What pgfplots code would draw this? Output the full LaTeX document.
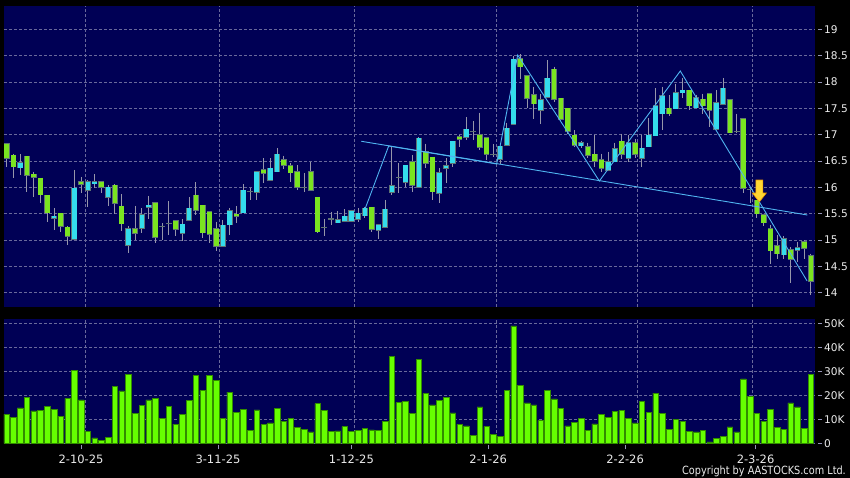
\documentclass[border=0pt]{standalone}
\usepackage{pgfplots}
\usepackage{pgfplotstable}
\pgfplotsset{compat=1.18}
\usepackage{fontspec}
\setmainfont{DejaVu Sans}
\newfontfamily\cpfont[FakeStretch=0.86]{DejaVu Sans}
\definecolor{navy}{RGB}{0,0,85}
\definecolor{cgreen}{RGB}{122,228,32}
\definecolor{ccyan}{RGB}{52,220,236}
\definecolor{cedge}{RGB}{95,115,115}
\definecolor{wick}{RGB}{150,150,170}
\definecolor{vgreen}{RGB}{102,255,0}
\definecolor{vedge}{RGB}{50,140,0}
\definecolor{gridc}{RGB}{105,105,155}
\definecolor{trend}{RGB}{80,180,240}
\definecolor{lab}{RGB}{235,235,235}
\definecolor{arrowy}{RGB}{255,215,50}
\definecolor{arrowo}{RGB}{235,150,0}

\pgfplotstableread{
i o h l c v
0 16.82 16.82 16.39 16.55 12.1
1 16.61 16.64 16.17 16.39 10.7
2 16.37 16.63 16.24 16.46 14.8
3 16.59 16.59 15.92 16.235 19.0
4 16.25 16.30 15.81 16.19 13.5
5 16.17 16.17 15.70 15.86 13.7
6 15.85 15.85 15.35 15.52 15.5
7 15.41 15.60 15.19 15.45 14.1
8 15.51 15.51 15.16 15.26 11.3
9 15.24 15.27 14.91 15.07 18.7
10 15.02 16.33 15.02 15.98 30.5
11 16.11 16.20 15.89 16.06 18.1
12 15.95 16.14 15.62 16.10 5.1
13 16.07 16.25 15.98 16.10 2.3
14 16.10 16.10 15.89 16.00 1.1
15 15.81 16.04 15.65 16.00 2.6
16 16.04 16.06 15.50 15.70 23.8
17 15.64 15.87 15.18 15.31 21.8
18 14.90 15.27 14.76 15.21 28.6
19 15.21 15.65 15.00 15.13 12.4
20 15.23 15.60 15.13 15.48 15.8
21 15.62 15.84 15.39 15.66 18.1
22 15.70 15.70 14.95 15.05 18.8
23 15.26 15.32 15.00 15.26 10.3
24 15.32 15.74 15.10 15.32 15.5
25 15.36 15.36 15.07 15.21 8.0
26 15.13 15.39 14.99 15.30 12.2
27 15.38 15.81 15.38 15.60 17.9
28 15.85 16.10 15.48 15.57 28.3
29 15.66 15.66 15.03 15.14 22.1
30 15.53 15.53 14.94 15.11 28.3
31 15.21 15.35 14.80 14.88 26.2
32 14.88 15.38 14.88 15.28 10.3
33 15.29 15.60 15.10 15.55 21.3
34 15.49 15.65 15.33 15.45 13.0
35 15.52 16.06 15.52 15.94 14.1
36 15.92 15.98 15.76 15.92 5.4
37 15.91 16.29 15.75 16.29 13.9
38 16.33 16.55 16.08 16.27 7.8
39 16.13 16.55 16.13 16.36 8.5
40 16.30 16.74 16.30 16.63 14.6
41 16.52 16.60 16.34 16.42 9.2
42 16.41 16.46 16.11 16.28 10.3
43 16.29 16.42 15.95 16.00 6.5
44 16.00 16.27 15.92 16.00 5.9
45 16.30 16.49 15.95 15.95 4.8
46 15.81 15.81 15.13 15.16 16.5
47 15.24 15.40 15.08 15.24 13.6
48 15.40 15.54 15.29 15.40 5.1
49 15.33 15.55 15.32 15.38 5.2
50 15.36 15.58 15.34 15.45 6.9
51 15.36 15.57 15.34 15.55 5.1
52 15.40 15.60 15.35 15.51 5.4
53 15.46 15.63 15.41 15.60 6.2
54 15.62 15.62 15.16 15.21 5.6
55 15.19 15.29 15.02 15.29 5.4
56 15.24 15.76 15.24 15.58 9.2
57 15.91 16.77 15.86 16.03 36.2
58 16.19 16.46 15.90 16.19 16.9
59 16.10 16.42 16.01 16.42 17.6
60 16.49 16.61 15.92 16.04 12.4
61 16.00 16.95 16.00 16.93 35.0
62 16.68 16.83 16.36 16.46 20.7
63 16.57 16.57 15.76 15.92 16.0
64 15.89 16.36 15.70 16.28 17.8
65 16.36 16.55 16.09 16.41 19.1
66 16.46 16.87 16.38 16.87 12.7
67 16.96 16.99 16.76 16.91 7.9
68 16.95 17.33 16.90 17.10 7.3
69 17.06 17.25 16.90 17.06 3.2
70 17.00 17.42 16.71 16.76 15.2
71 16.94 16.94 16.52 16.63 6.9
72 16.63 16.82 16.57 16.63 3.7
73 16.53 16.78 16.44 16.78 2.9
74 16.80 17.23 16.80 17.12 22.0
75 17.20 18.49 17.20 18.43 48.9
76 18.44 18.53 18.05 18.29 24.1
77 18.12 18.12 17.50 17.69 16.8
78 17.76 17.91 17.29 17.59 16.0
79 17.47 17.78 17.20 17.66 9.6
80 17.71 18.41 17.71 18.07 22.2
81 18.24 18.29 17.62 17.67 18.5
82 17.69 17.69 17.25 17.29 14.5
83 17.50 17.50 17.02 17.06 7.3
84 16.99 17.08 16.76 16.80 8.7
85 16.79 16.88 16.74 16.85 10.3
86 16.77 16.85 16.55 16.61 5.5
87 16.63 16.99 16.39 16.50 8.1
88 16.52 16.64 16.29 16.36 12.0
89 16.33 16.68 16.33 16.49 10.9
90 16.49 16.85 16.49 16.73 13.4
91 16.87 17.02 16.54 16.63 13.6
92 16.55 16.99 16.49 16.84 10.3
93 16.84 16.92 16.56 16.63 8.5
94 16.55 16.99 16.39 16.74 17.5
95 16.77 17.31 16.77 16.99 13.0
96 16.98 17.88 16.98 17.55 20.9
97 17.40 17.91 17.08 17.74 12.5
98 17.50 17.75 17.36 17.40 5.9
99 17.49 17.97 17.49 17.80 10.1
100 17.80 18.08 17.69 17.84 9.2
101 17.84 17.84 17.47 17.55 5.0
102 17.51 17.76 17.51 17.70 4.8
103 17.67 17.78 17.40 17.55 5.4
104 17.78 17.78 17.15 17.47 0.6
105 17.10 17.84 17.10 17.61 2.2
106 17.58 18.08 17.58 17.88 2.8
107 17.66 17.66 17.04 17.04 6.8
108 17.06 17.40 17.04 17.06 4.8
109 17.295 17.295 15.89 15.98 26.8
110 15.96 16.00 15.71 15.96 19.4
111 15.75 15.75 15.41 15.50 12.6
112 15.48 15.48 15.27 15.33 9.0
113 15.21 15.29 14.55 14.80 14.2
114 14.89 15.10 14.63 14.74 6.6
115 14.72 15.07 14.63 15.02 5.8
116 14.81 14.86 14.18 14.63 16.8
117 14.81 14.97 14.59 14.85 15.2
118 14.97 15.00 14.63 14.85 6.2
119 14.70 14.74 13.96 14.22 28.8
}\data

\pgfplotsset{
  chartbase/.style={
    scale only axis, width=811pt,
    xmin=-0.4, xmax=119.6,
    axis background/.style={fill=navy},
    axis line style={draw=none},
    grid style={gridc, line width=0.6pt, dash pattern=on 3pt off 2pt},
    ymajorgrids,
    ytick pos=right, yticklabel pos=right,
    tick align=outside,
    ytick style={draw=gridc!70!white, line width=0.6pt, xshift=3pt},
    major tick length=4pt,
    /pgf/number format/assume math mode=true,
    yticklabel style={font=\fontsize{10.6}{12}\selectfont, text=lab, anchor=west, inner sep=0pt, xshift=5pt},
    xticklabel style={font=\fontsize{11.5}{13}\selectfont, text=lab},
    clip=true,
  },
  candle/.style={draw=none, no markers, forget plot,
    error bars/y dir=minus, error bars/y explicit, error bars/error mark=none},
}

\begin{document}
\begin{tikzpicture}[x=1pt,y=1pt]
\fill[black] (0,0) rectangle (850,478);
% price panel
\begin{axis}[chartbase,
  at={(4pt,171.3pt)}, anchor=south west, height=301pt,
  ymin=13.734, ymax=19.448,
  ytick={14,14.5,15,15.5,16,16.5,17,17.5,18,18.5,19},
  xtick={11.57,31.5,51.5,72.4,93.3,110.3}, xticklabels={},
  xmajorgrids, xtick style={draw=none},
]
% wicks
\addplot[candle, error bars/error bar style={line width=1pt, draw=wick}]
  table[x=i, y=h, y error minus expr={\thisrow{h}-\thisrow{l}}] {\data};
% body outlines
\addplot[candle, error bars/error bar style={line width=5.8pt, draw=cedge}]
  table[x=i, y expr={max(\thisrow{o},\thisrow{c})+0.012},
        y error minus expr={abs(\thisrow{o}-\thisrow{c})+0.024}] {\data};
% up bodies (cyan)
\addplot[candle, restrict expr to domain={\thisrow{c}-\thisrow{o}}{0.0001:100},
  error bars/error bar style={line width=4.6pt, draw=ccyan}]
  table[x=i, y=c, y error minus expr={\thisrow{c}-\thisrow{o}}] {\data};
% down bodies (green)
\addplot[candle, restrict expr to domain={\thisrow{o}-\thisrow{c}}{0.0001:100},
  error bars/error bar style={line width=4.6pt, draw=cgreen}]
  table[x=i, y=o, y error minus expr={\thisrow{o}-\thisrow{c}}] {\data};
% trend lines
\addplot[trend, line width=0.9pt, mark=none] coordinates {(52.47,16.874) (118.47,15.475)};
\addplot[trend, line width=0.9pt, mark=none] coordinates {
(53.06,15.602) (56.52,16.785) (72.5,16.443) (75.61,18.512) (87.69,16.120) (99.67,18.208) (118.43,14.222)};
% arrow
\addplot[fill=arrowy, draw=arrowo, line width=0.6pt, mark=none] coordinates {
(110.84,16.139) (111.88,16.139) (111.88,15.892) (112.40,15.892) (111.36,15.722) (110.32,15.892) (110.84,15.892)} -- cycle;
\end{axis}
% volume panel
\begin{axis}[chartbase,
  at={(4pt,34.7pt)}, anchor=south west, height=124pt,
  ymin=0, ymax=51.67,
  ytick={0,10,20,30,40,50}, yticklabels={0,10K,20K,30K,40K,50K},
  xtick={11,31.26,51,71.25,91.5,110.8},
  xticklabels={2-10-25,3-11-25,1-12-25,2-1-26,2-2-26,2-3-26},
  xtick pos=bottom,
  xtick style={draw=gridc!70!white, line width=0.6pt, yshift=-2pt},
  xticklabel style={anchor=north, inner sep=0pt, yshift=-7.5pt},
  extra x ticks={11.57,31.5,51.5,72.4,93.3,110.3},
  extra x tick labels={},
  extra x tick style={grid=major, major tick length=0pt},
]
\addplot[ybar, bar width=5.5pt, fill=vgreen, draw=vedge, line width=0.5pt]
  table[x=i, y=v] {\data};
\end{axis}
\node[anchor=east, inner sep=0pt, text=lab, font=\cpfont\fontsize{11.3}{13}\selectfont] at (846,6.3) {Copyright by AASTOCKS.com Ltd.};
\useasboundingbox (0,0) rectangle (850,478);
\end{tikzpicture}
\end{document}
